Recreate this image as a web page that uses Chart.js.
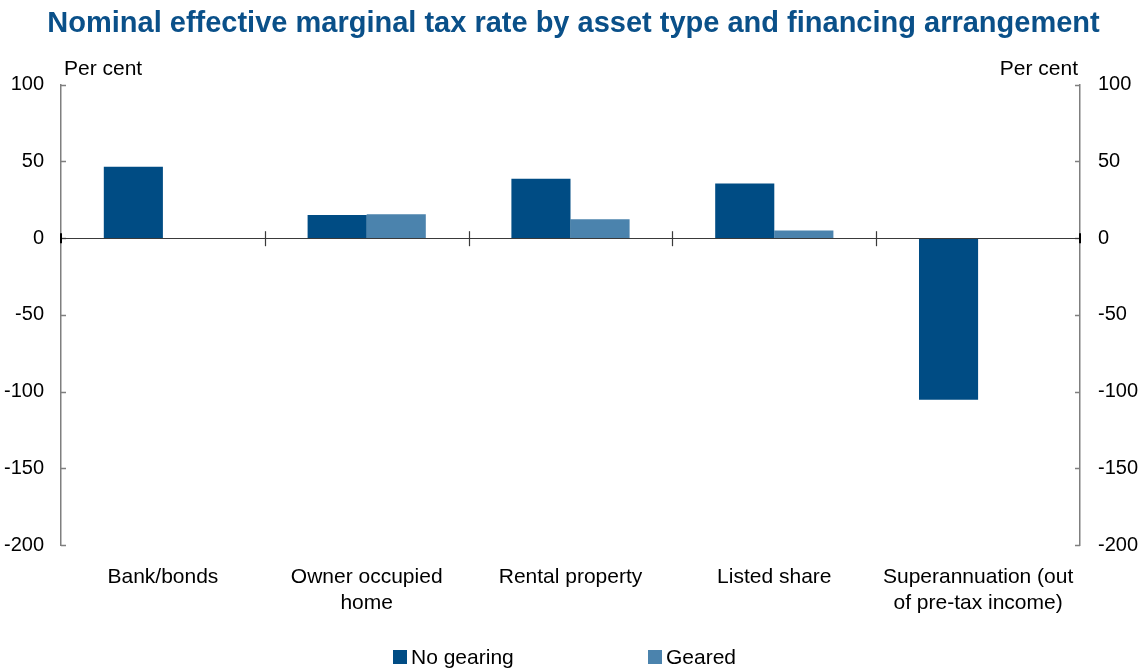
<!DOCTYPE html>
<html>
<head>
<meta charset="utf-8">
<script src="https://cdn.jsdelivr.net/npm/chart.js@4.4.1/dist/chart.umd.min.js"></script>
<style>
  html, body { margin: 0; padding: 0; background: #fff; }
  #wrap { position: relative; width: 1147px; height: 671px; }
  #legend {
    position: absolute; left: 0; top: 645px; width: 1147px; height: 24px;
    font-family: 'Liberation Sans', Arial, sans-serif; font-size: 21px; color: #000;
  }
  .item { position: absolute; top: 0; display: flex; align-items: center; }
  .swatch { width: 14px; height: 14px; margin-right: 4px; }
</style>
</head>
<body>
<div id="wrap">
  <canvas id="chart" width="1147" height="671"></canvas>
  <div id="legend">
    <div class="item" style="left:393px"><span class="swatch" style="background:#004c84"></span>No gearing</div>
    <div class="item" style="left:648px"><span class="swatch" style="background:#4b83ad"></span>Geared</div>
  </div>
</div>
<script>
// Asset categories (multi-line labels)
const categories = [
  ['Bank/bonds'],
  ['Owner occupied', 'home'],
  ['Rental property'],
  ['Listed share'],
  ['Superannuation (out', 'of pre-tax income)']
];

// Effective marginal tax rates, per cent
const noGearing = [46.5, 15.2, 38.7, 35.6, -105.3];
const geared = [null, 15.6, 12.4, 5.1, null];

const yTicks = [100, 50, 0, -50, -100, -150, -200];

const DARK = '#004c84';
const LIGHT = '#4b83ad';
const FONT = "'Liberation Sans', Arial, sans-serif";

// Zero line, category separators, inward y ticks and "Per cent" labels
const decorations = {
  id: 'decorations',
  afterDatasetsDraw(chart) {
    const { ctx, chartArea, scales } = chart;
    const x = scales.x;
    const y = scales.y;
    const y0 = y.getPixelForValue(0);
    ctx.save();

    // inward ticks on both axes
    ctx.strokeStyle = '#7f7f7f';
    ctx.lineWidth = 1.3;
    yTicks.forEach(v => {
      const py = Math.round(y.getPixelForValue(v)) + 0.5;
      ctx.beginPath();
      ctx.moveTo(chartArea.left, py);
      ctx.lineTo(chartArea.left + 5, py);
      ctx.moveTo(chartArea.right, py);
      ctx.lineTo(chartArea.right - 5, py);
      ctx.stroke();
    });

    // zero line
    ctx.strokeStyle = '#3a3a3a';
    ctx.lineWidth = 1.2;
    ctx.beginPath();
    ctx.moveTo(chartArea.left, Math.round(y0) + 0.5);
    ctx.lineTo(chartArea.right, Math.round(y0) + 0.5);
    ctx.stroke();

    // separators between categories
    for (let i = 1; i < categories.length; i++) {
      const px = Math.round((x.getPixelForValue(i - 1) + x.getPixelForValue(i)) / 2) + 0.5;
      ctx.beginPath();
      ctx.moveTo(px, y0 - 7);
      ctx.lineTo(px, y0 + 8);
      ctx.stroke();
    }

    // darker zero marks at the axis ends
    ctx.strokeStyle = '#000';
    ctx.lineWidth = 2;
    ctx.beginPath();
    ctx.moveTo(chartArea.left, y0 - 5);
    ctx.lineTo(chartArea.left, y0 + 5);
    ctx.moveTo(chartArea.right, y0 - 5);
    ctx.lineTo(chartArea.right, y0 + 5);
    ctx.stroke();

    // unit labels
    ctx.fillStyle = '#000';
    ctx.font = '21px ' + FONT;
    ctx.textBaseline = 'middle';
    ctx.textAlign = 'left';
    ctx.fillText('Per cent', chartArea.left + 3, 69);
    ctx.textAlign = 'right';
    ctx.fillText('Per cent', chartArea.right - 2, 69);
    ctx.restore();
  }
};

const yAxis = (position, width, pad) => ({
  type: 'linear',
  position: position,
  min: -200,
  max: 100,
  afterFit(scale) { scale.width = width; },
  afterBuildTicks(scale) { scale.ticks = yTicks.map(v => ({ value: v })); },
  border: { display: true, color: '#7f7f7f', width: 1.5 },
  grid: { display: false, drawTicks: false },
  ticks: {
    padding: pad,
    color: '#000',
    font: { family: FONT, size: 20 }
  }
});

new Chart(document.getElementById('chart'), {
  type: 'bar',
  data: {
    labels: categories,
    datasets: [
      { label: 'No gearing', data: noGearing, backgroundColor: DARK, borderWidth: 0 },
      { label: 'Geared', data: geared, backgroundColor: LIGHT, borderWidth: 0 }
    ]
  },
  options: {
    responsive: false,
    animation: false,
    layout: { padding: { top: 0, bottom: 46, left: 0, right: 0 } },
    datasets: { bar: { categoryPercentage: 0.58, barPercentage: 1 } },
    plugins: {
      legend: { display: false },
      tooltip: { enabled: false },
      title: {
        display: true,
        text: 'Nominal effective marginal tax rate by asset type and financing arrangement',
        color: '#0a5089',
        font: { family: FONT, size: 29, weight: 'bold' },
        padding: { top: 7, bottom: 43 }
      }
    },
    scales: {
      x: {
        afterFit(scale) { scale.height = 80; },
        border: { display: false },
        grid: { display: false, drawTicks: false },
        ticks: {
          padding: 20,
          color: '#000',
          maxRotation: 0,
          autoSkip: false,
          font: { family: FONT, size: 21 }
        }
      },
      y: yAxis('left', 61, 17),
      y2: yAxis('right', 67, 18)
    }
  },
  plugins: [decorations]
});
</script>
</body>
</html>
